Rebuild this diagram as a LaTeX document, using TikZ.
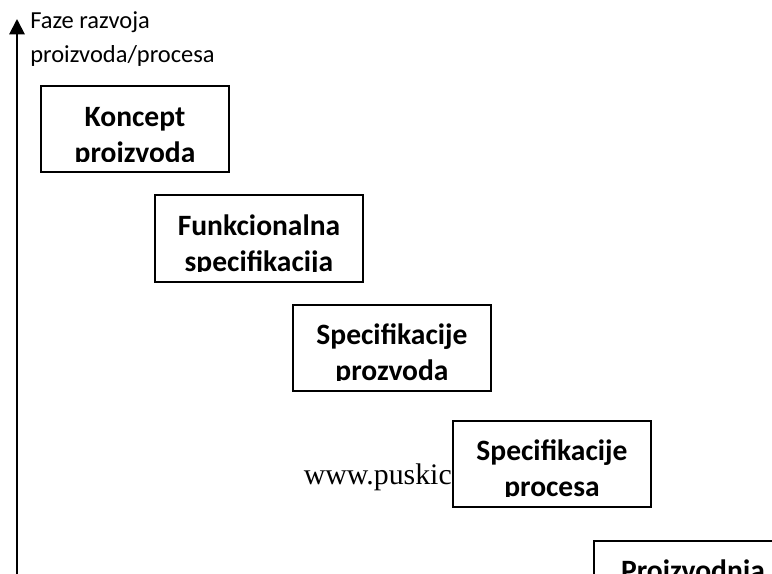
\documentclass[tikz,border=0pt]{standalone}
\usepackage{fontspec}
\setmainfont{Carlito}
\newfontfamily\timesfont{Liberation Serif}
\usetikzlibrary{arrows.meta,positioning}

% box with text cut off near its lower edge (#6 = baseline of last line below top)
\newcommand{\phasebox}[7]{%
  \draw[phase] (#2,#3) rectangle (#4,#5);
  \begin{scope}
    \clip (#2,#3) rectangle (#4,#5-11);
    \node[phasetext](#1) at ({(#2+#4)/2},#3+#6) {#7};
  \end{scope}}

\begin{document}
\begin{tikzpicture}[
        x=0.025cm, y=-0.025cm,
        phase/.style = {draw, line width=1.3pt, fill=white},
        phasetext/.style = {anchor=base, align=center, inner sep=0pt,
            font=\fontsize{21}{25.6}\selectfont\bfseries},
        axis/.style = {line width=1.4pt, -{Triangle[length=11pt,width=11pt]}},
        ]
        \useasboundingbox (0,0) rectangle (772,574);
        \coordinate (axisbot) at (17,574);
        \coordinate (axistop) at (17,19);
        \draw[axis] (axisbot) -- (axistop);
        \node[anchor=base west, align=left, inner sep=0pt,
            font=\fontsize{17.4}{23.5}\selectfont](title) at (30,62)
            {Faze razvoja\\proizvoda/procesa};
        \node[anchor=base east, inner sep=0pt,
            font=\timesfont\fontsize{21.2}{25}\selectfont](www) at (452,484) {www.puskic};
        \phasebox{koncept}{41}{86}{229}{172}{76}{Koncept\\proizvoda}
        \phasebox{funkc}{155}{195}{363}{282}{76}{Funkcionalna\\specifikacija}
        \phasebox{specprod}{293}{305}{491}{391}{75}{Specifikacije\\prozvoda}
        \phasebox{specproc}{453}{421}{651}{507}{75}{Specifikacije\\procesa}
        \phasebox{proizv}{594}{541}{792}{627}{39}{Proizvodnja}
        \end{tikzpicture}
\end{document}
